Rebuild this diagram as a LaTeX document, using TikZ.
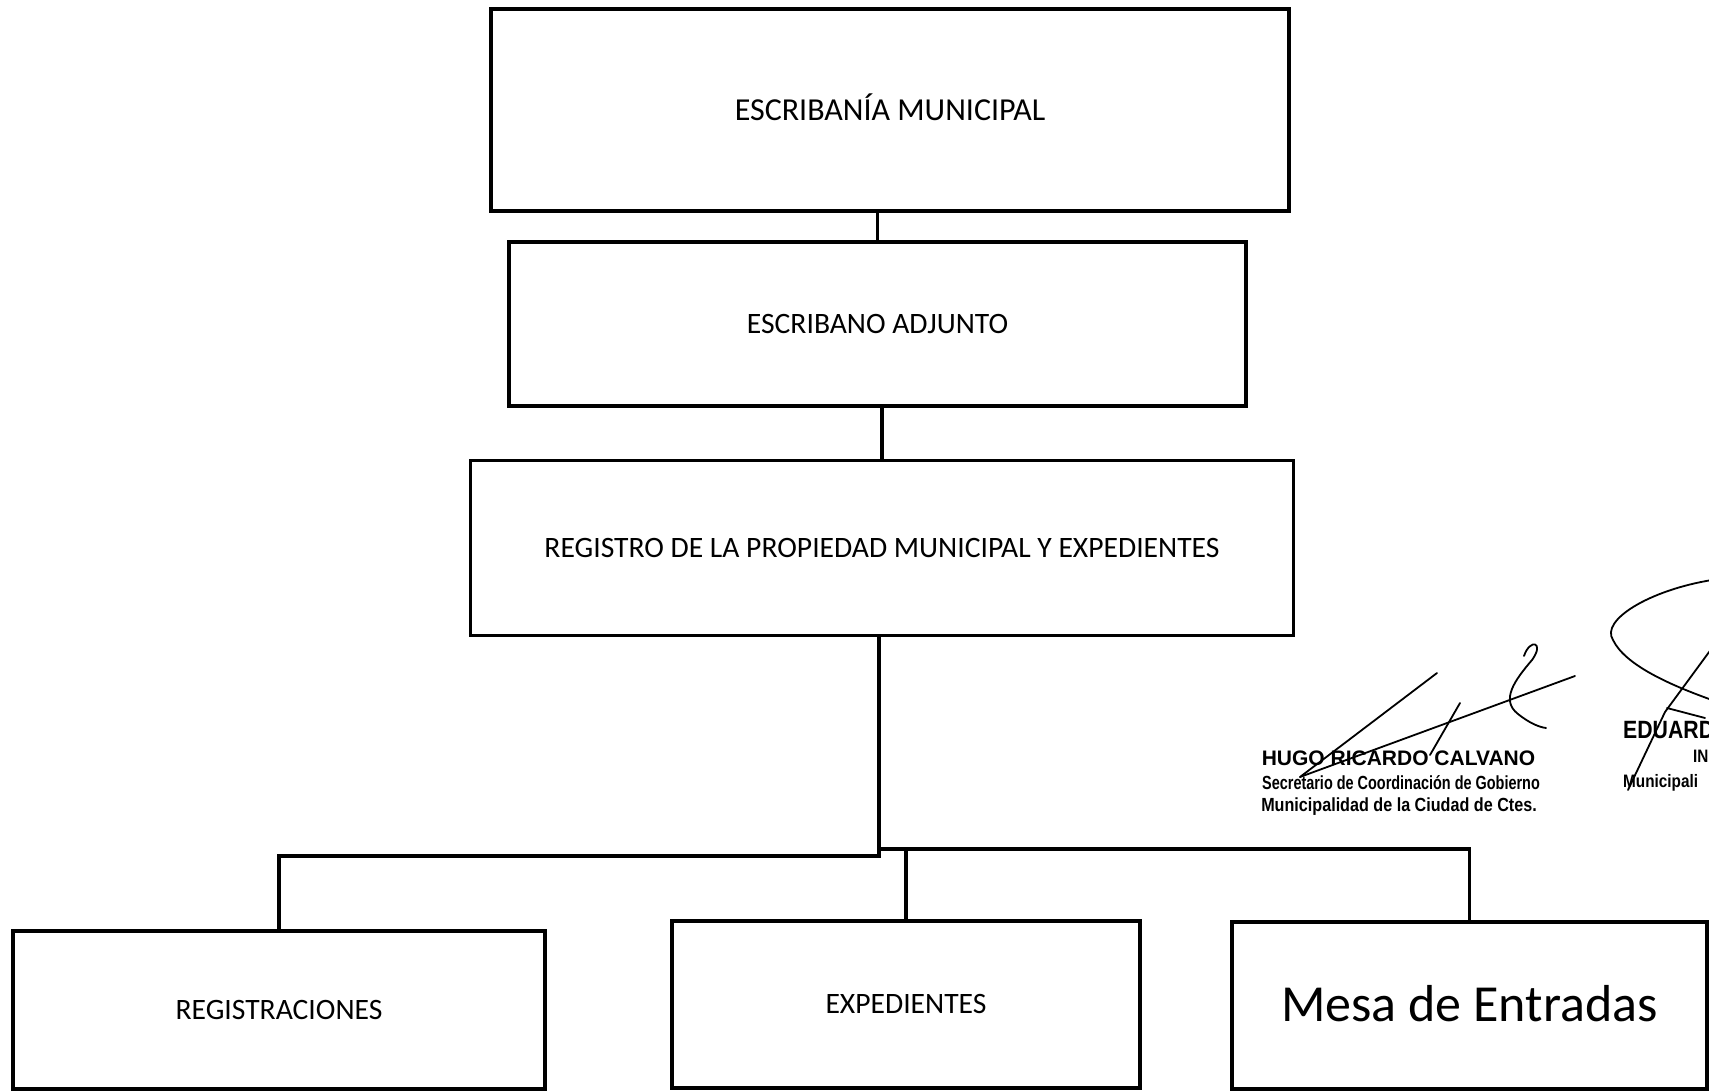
\documentclass[tikz,border=0pt]{standalone}
\usepackage{fontspec}
\setmainfont{Carlito}
\newfontfamily\stampname{Liberation Sans}
\newfontfamily\stampA[FakeStretch=0.76]{Liberation Sans}
\newfontfamily\stampB[FakeStretch=0.85]{Liberation Sans}
\begin{document}
\begin{tikzpicture}[x=1pt,y=-1pt,
  box/.style={draw, rectangle, line width=3.8pt, inner sep=0pt,
    font=\fontsize{29.6}{34}\selectfont, text height=18.7pt, text depth=0pt},
  topbox/.style={box, font=\fontsize{32}{37}\selectfont, text height=20.2pt},
  bigbox/.style={box, font=\fontsize{52}{60}\selectfont, text height=32.9pt},
  conn/.style={line width=3.8pt},
  sig/.style={line width=1.8pt, line cap=round, line join=round},
  stamp/.style={inner sep=0pt, anchor=base}]
\useasboundingbox (0,0) rectangle (1709,1091);
\clip (0,0) rectangle (1709,1091);

\node[topbox, minimum width=798pt, minimum height=202pt] (B1) at (890,110) {ESCRIBANÍA MUNICIPAL};
\node[box, minimum width=737pt, minimum height=164pt] (B2) at (877.5,324) {ESCRIBANO ADJUNTO};
\node[box, minimum width=823pt, minimum height=175pt] (B3) at (882,548) {REGISTRO DE LA PROPIEDAD MUNICIPAL Y EXPEDIENTES};
\node[box, minimum width=532pt, minimum height=158pt] (B4) at (279,1010) {REGISTRACIONES};
\node[box, minimum width=468pt, minimum height=167pt] (B5) at (906,1004.5) {EXPEDIENTES};
\node[bigbox, minimum width=475pt, minimum height=167pt] (B6) at (1469.5,1005.5) {Mesa de Entradas};

\coordinate (J1) at (879,856);
\coordinate (J2) at (879,849);
\draw[conn] (B2.north |- B1.south) -- (B2.north);
\draw[conn] (B3.north |- B2.south) -- (B3.north);
\draw[conn] (J1 |- B3.south) -- (J1) -- (J1 -| B4.north) -- (B4.north);
\draw[conn] (J2) -- (J2 -| B6.north) -- (B6.north);
\draw[conn] (J2 -| B5.north) -- (B5.north);

% stamp of the first signatory
\node[stamp] (S1) at (1398.5,765) {\stampname\bfseries\fontsize{21}{24}\selectfont HUGO RICARDO CALVANO};
\node[stamp] (S2) at (1401,789) {\stampA\bfseries\fontsize{19}{22}\selectfont Secretario de Coordinación de Gobierno};
\node[stamp] (S3) at (1399,811) {\stampB\bfseries\fontsize{19}{22}\selectfont Municipalidad de la Ciudad de Ctes.};

% stamp of the second signatory (cut by the edge)
\node[stamp, anchor=base west] (T1) at (1623,738) {\stampB\bfseries\fontsize{25}{28}\selectfont EDUARD};
\node[stamp, anchor=base west] (T2) at (1693,762) {\stampB\bfseries\fontsize{18}{22}\selectfont IN};
\node[stamp, anchor=base west] (T3) at (1623,787) {\stampB\bfseries\fontsize{18}{22}\selectfont Municipali};

% signature 1
\draw[sig] (1437,673) -- (1300,777);
\draw[sig] (1575,676) -- (1300,777);
\draw[sig] (1524,656) .. controls (1530,638) and (1545,642) .. (1532,660)
  .. controls (1515,680) and (1500,700) .. (1518,714)
  .. controls (1528,722) and (1538,727) .. (1546,728);
\draw[sig] (1460,703) -- (1430,755);

% signature 2
\draw[sig] (1712,580) .. controls (1650,590) and (1600,620) .. (1613,640)
  .. controls (1625,665) and (1670,685) .. (1712,700);
\draw[sig] (1712,648) -- (1665,712) -- (1628,790);
\draw[sig] (1667,708) -- (1705,718);
\end{tikzpicture}
\end{document}
